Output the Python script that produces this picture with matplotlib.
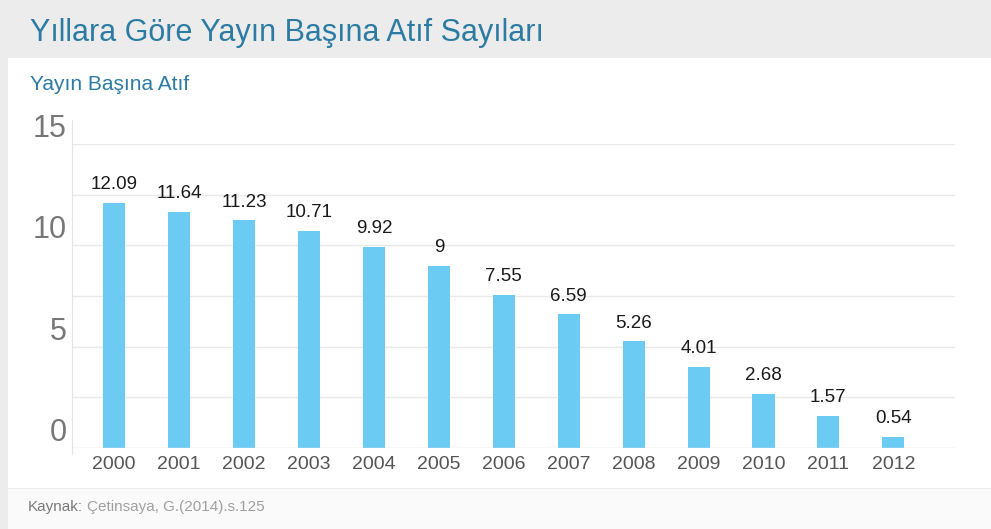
import matplotlib.pyplot as plt
from matplotlib.patches import Rectangle

# data
years = ['2000', '2001', '2002', '2003', '2004', '2005', '2006',
         '2007', '2008', '2009', '2010', '2011', '2012']
values = [12.09, 11.64, 11.23, 10.71, 9.92, 9, 7.55,
          6.59, 5.26, 4.01, 2.68, 1.57, 0.54]
value_labels = ['12.09', '11.64', '11.23', '10.71', '9.92', '9', '7.55',
                '6.59', '5.26', '4.01', '2.68', '1.57', '0.54']
ytick_vals = [0, 5, 10, 15]

plt.rcParams['font.family'] = ['Liberation Sans', 'DejaVu Sans']

W, H = 991, 529
fig = plt.figure(figsize=(W / 100, H / 100), dpi=100, facecolor='#ececec')

def fx(px):
    return px / W

def fy(py):
    return 1 - py / H

# background panels
fig.patches.append(Rectangle((fx(8), fy(488)), 1, fy(58) - fy(488),
                             transform=fig.transFigure, facecolor='white',
                             edgecolor='none', zorder=-5))
fig.patches.append(Rectangle((fx(8), 0), 1, fy(489),
                             transform=fig.transFigure, facecolor='#fafafa',
                             edgecolor='none', zorder=-5))

title_color = '#2b7ba3'
fig.text(fx(30), fy(33), 'Yıllara Göre Yayın Başına Atıf Sayıları',
         fontsize=22, color=title_color, va='center', ha='left')
fig.text(fx(30), fy(85), 'Yayın Başına Atıf',
         fontsize=15, color=title_color, va='center', ha='left')
src = fig.text(fx(28), fy(507), 'Kaynak:', fontsize=11, color='#7a7a7a',
               va='center', ha='left')
fig.add_artist(plt.Annotation('Çetinsaya, G.(2014).s.125', xy=(1, 0.5),
                              xycoords=src, xytext=(3, 0),
                              textcoords='offset points', fontsize=11,
                              color='#a0a0a0', va='center', ha='left'))

# chart area
ax = fig.add_axes([fx(72), fy(448), fx(955) - fx(72), fy(144) - fy(448)])
ax.set_facecolor('none')
x = list(range(len(years)))
ax.bar(x, values, width=0.34, color='#6bcbf3', zorder=2)
ax.set_xlim(-0.65, 12.95)
ax.set_ylim(0, 15)

for yg in [2.5, 5, 7.5, 10, 12.5, 15]:
    ax.axhline(yg, color='#e9e9e9', lw=1, zorder=1)
ax.axhline(0, color='#dddddd', lw=1, zorder=3)

for xi, v, lab in zip(x, values, value_labels):
    ax.annotate(lab, (xi, v), xytext=(0, 7), textcoords='offset points',
                ha='center', va='bottom', fontsize=13.5, color='#1a1a1a')

ax.set_xticks(x)
ax.set_xticklabels(years, fontsize=14, color='#555555')
ax.set_yticks(ytick_vals)
ax.set_yticklabels([str(t) for t in ytick_vals], fontsize=22, color='#777777',
                   va='bottom')
ax.tick_params(axis='y', length=0, pad=4)
ax.tick_params(axis='x', length=0, pad=6)
for s in ['top', 'right', 'bottom']:
    ax.spines[s].set_visible(False)
ax.spines['left'].set_color('#e4e4e4')
ax.spines['left'].set_bounds(-0.3, 16.2)

fig.savefig('out.png', dpi=100, facecolor=fig.get_facecolor())
